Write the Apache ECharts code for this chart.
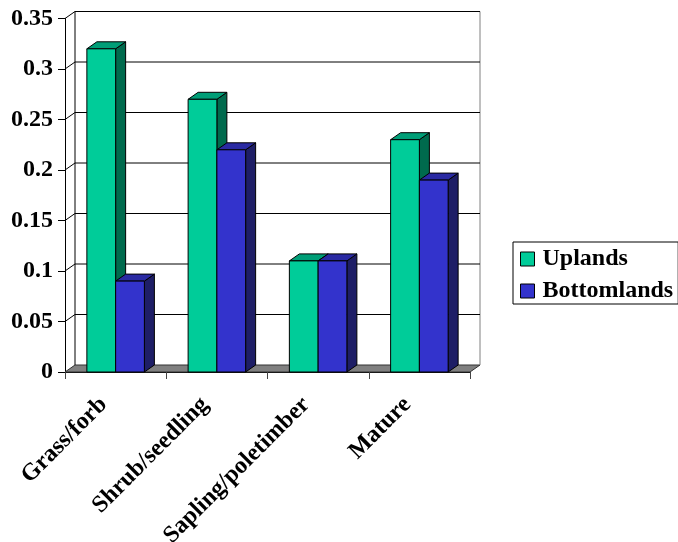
<!DOCTYPE html>
<html><head><meta charset="utf-8">
<script src="https://cdn.jsdelivr.net/npm/echarts@6/dist/echarts.min.js"></script>
<style>html,body{margin:0;padding:0;background:#fff}#c{width:678px;height:542px}</style>
</head><body><div id="c"></div>
<script>
const categories = ['Grass/forb', 'Shrub/seedling', 'Sapling/poletimber', 'Mature'];
const seriesNames = ['Uplands', 'Bottomlands'];
const uplands = [0.32, 0.27, 0.11, 0.23];
const bottomlands = [0.09, 0.22, 0.11, 0.19];
const yTicks = [0, 0.05, 0.1, 0.15, 0.2, 0.25, 0.3, 0.35];

const DX = 10, DY = -7;
const BAR_FRAC = 0.284;
const FONT = '"Liberation Serif", "Times New Roman", serif';
const upColors = { front: '#00CC99', top: '#009E77', side: '#006A4D' };
const btColors = { front: '#3333CC', top: '#2A2AA3', side: '#1E1E66' };

function wallItem(params, api) {
  const cs = params.coordSys;
  const v = api.value(1);
  const y = api.coord([0, v])[1];
  const x0 = cs.x, x1 = cs.x + cs.width;
  const children = [];
  if (v === yTicks[0]) {
    children.push({ type: 'polygon', shape: { points: [[x0, y], [x1, y], [x1 + DX, y + DY], [x0 + DX, y + DY]] },
      style: { fill: '#808080', stroke: '#333', lineWidth: 1 } });
    children.push({ type: 'line', shape: { x1: x0 + DX, y1: cs.y + DY, x2: x0 + DX, y2: y + DY },
      style: { stroke: '#000', lineWidth: 1 } });
    children.push({ type: 'line', shape: { x1: x1 + DX, y1: cs.y + DY, x2: x1 + DX, y2: y + DY },
      style: { stroke: '#808080', lineWidth: 1 } });
  } else {
    children.push({ type: 'polyline', shape: { points: [[x0, y], [x0 + DX, y + DY], [x1 + DX, y + DY]] },
      style: { stroke: '#000', lineWidth: 1, fill: null } });
  }
  return { type: 'group', children: children };
}

function barRenderer(offsetIndex, colors) {
  return function (params, api) {
    const c = api.value(0), v = api.value(1);
    const top = api.coord([c, v]);
    const base = api.coord([c, 0]);
    const bw = api.size([1, 0])[0] * BAR_FRAC;
    const xl = top[0] - bw + offsetIndex * bw;
    const xr = xl + bw;
    const yt = top[1], yb = base[1];
    const st = { stroke: '#000', lineWidth: 1 };
    return {
      type: 'group',
      children: [
        { type: 'polygon', shape: { points: [[xr, yt], [xr + DX, yt + DY], [xr + DX, yb + DY], [xr, yb]] },
          style: Object.assign({ fill: colors.side }, st) },
        { type: 'polygon', shape: { points: [[xl, yt], [xr, yt], [xr + DX, yt + DY], [xl + DX, yt + DY]] },
          style: Object.assign({ fill: colors.top }, st) },
        { type: 'rect', shape: { x: xl, y: yt, width: bw, height: yb - yt },
          style: Object.assign({ fill: colors.front }, st) }
      ]
    };
  };
}

const chart = echarts.init(document.getElementById('c'), null, { renderer: 'canvas' });
chart.setOption({
  animation: false,
  backgroundColor: '#fff',
  grid: { left: 65, right: 208, top: 18.5, bottom: 170, containLabel: false, outerBoundsMode: 'none' },
  legend: {
    data: seriesNames,
    orient: 'vertical',
    left: 513, top: 242,
    itemWidth: 14, itemHeight: 14, itemGap: 8,
    padding: [5, 5, 1, 7],
    borderColor: '#000', borderWidth: 1,
    icon: 'rect',
    itemStyle: { borderColor: '#000', borderWidth: 1 },
    textStyle: { fontFamily: FONT, fontSize: 24, fontWeight: 'bold', color: '#000', padding: [0, 0, 0, 3] }
  },
  xAxis: {
    type: 'category',
    data: categories,
    axisLine: { lineStyle: { color: '#000', width: 1 } },
    axisTick: { show: true, length: 7, lineStyle: { color: '#444' } },
    axisLabel: { rotate: 45, interval: 0, margin: 17, padding: [0, 17, 0, 0],
      fontFamily: FONT, fontSize: 24, fontWeight: 'bold', color: '#000' },
    splitLine: { show: false }
  },
  yAxis: {
    type: 'value',
    min: yTicks[0], max: yTicks[yTicks.length - 1], interval: yTicks[1] - yTicks[0],
    axisLine: { show: true, lineStyle: { color: '#000', width: 1 } },
    axisTick: { show: true, length: 7, lineStyle: { color: '#000' } },
    axisLabel: { margin: 12, fontFamily: FONT, fontSize: 24, fontWeight: 'bold', color: '#000' },
    splitLine: { show: false }
  },
  series: [
    { name: 'walls', type: 'custom', z: 1, silent: true, renderItem: wallItem,
      encode: { x: 0, y: 1 }, data: yTicks.map(v => [0, v]) },
    { name: seriesNames[0], type: 'custom', z: 3, renderItem: barRenderer(0, upColors),
      itemStyle: { color: upColors.front }, encode: { x: 0, y: 1 }, data: uplands.map((v, i) => [i, v]) },
    { name: seriesNames[1], type: 'custom', z: 4, renderItem: barRenderer(1, btColors),
      itemStyle: { color: btColors.front }, encode: { x: 0, y: 1 }, data: bottomlands.map((v, i) => [i, v]) }
  ]
});
</script></body></html>
